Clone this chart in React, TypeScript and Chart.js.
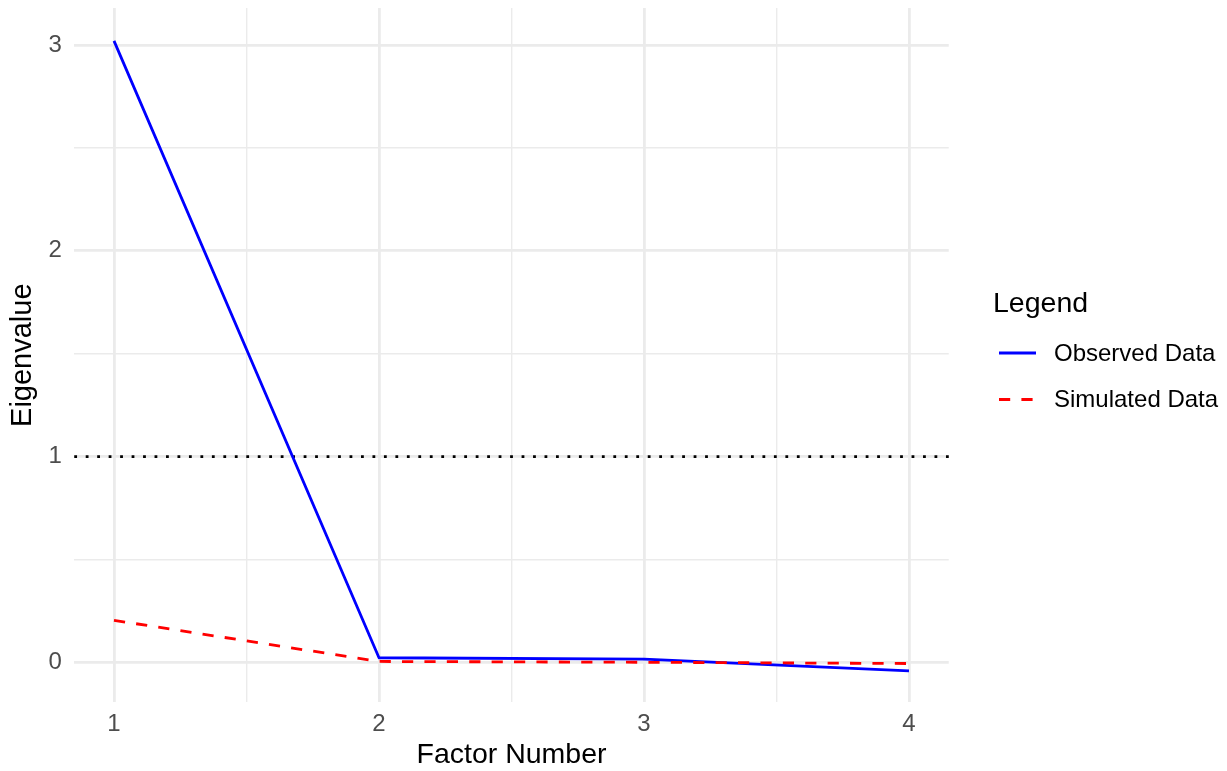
import React, { useEffect, useRef } from 'react';
import { Chart, registerables } from 'chart.js';

Chart.register(...registerables);

// ---- data ----
const factorNumbers = [1, 2, 3, 4];
const observedEigen = [3.02, 0.022, 0.015, -0.042];
const simulatedEigen = [0.204, 0.004, 0.0, -0.006];
const xTickValues = [1, 1.5, 2, 2.5, 3, 3.5, 4];
const yTickValues = [0, 0.5, 1, 1.5, 2, 2.5, 3];
const referenceEigen = 1;
const seriesLabels = ['Observed Data', 'Simulated Data'];
const legendTitle = 'Legend';
const xTitle = 'Factor Number';
const yTitle = 'Eigenvalue';

const FONT = '"Liberation Sans", Arial, Helvetica, sans-serif';
const W = 1227;
const H = 771;
const isMajor = (v: number) => Math.abs(v - Math.round(v)) < 1e-9;

const refLinePlugin = {
  id: 'refLine',
  beforeDatasetsDraw(chart: any) {
    const { ctx, chartArea, scales } = chart;
    const y = scales.y.getPixelForValue(referenceEigen);
    ctx.save();
    ctx.strokeStyle = '#000000';
    ctx.lineWidth = 2.8;
    ctx.lineCap = 'butt';
    ctx.setLineDash([2.8, 8.67]);
    ctx.beginPath();
    ctx.moveTo(chartArea.left, y);
    ctx.lineTo(chartArea.right, y);
    ctx.stroke();
    ctx.restore();
  },
};

const legendPlugin = {
  id: 'ggLegend',
  afterDraw(chart: any) {
    const { ctx } = chart;
    ctx.save();
    ctx.fillStyle = '#000000';
    ctx.textAlign = 'left';
    ctx.textBaseline = 'alphabetic';
    ctx.font = `28.5px ${FONT}`;
    ctx.fillText(legendTitle, 993, 311.7);
    const rows = [353, 399.5];
    chart.data.datasets.forEach((ds: any, i: number) => {
      const y = rows[i];
      ctx.save();
      ctx.strokeStyle = ds.borderColor;
      ctx.lineWidth = ds.borderWidth;
      ctx.lineCap = 'butt';
      ctx.setLineDash(ds.borderDash || []);
      ctx.beginPath();
      ctx.moveTo(999, y);
      ctx.lineTo(1036, y);
      ctx.stroke();
      ctx.restore();
      ctx.font = `24px ${FONT}`;
      ctx.textBaseline = 'middle';
      ctx.fillStyle = '#000000';
      ctx.fillText(ds.label, 1054, y + 1);
    });
    ctx.restore();
  },
};

export default function App() {
  const canvasRef = useRef<HTMLCanvasElement | null>(null);

  useEffect(() => {
    if (!canvasRef.current) return;
    const chart = new Chart(canvasRef.current, {
      type: 'line',
      data: {
        datasets: [
          {
            label: seriesLabels[0],
            data: factorNumbers.map((x, i) => ({ x, y: observedEigen[i] })),
            borderColor: '#0000FF',
            borderWidth: 2.8,
            pointRadius: 0,
            tension: 0,
            fill: false,
            borderCapStyle: 'butt',
            borderJoinStyle: 'round',
            order: 1,
          },
          {
            label: seriesLabels[1],
            data: factorNumbers.map((x, i) => ({ x, y: simulatedEigen[i] })),
            borderColor: '#FF0000',
            borderWidth: 2.8,
            borderDash: [11.2, 11.2],
            pointRadius: 0,
            tension: 0,
            fill: false,
            borderCapStyle: 'butt',
            borderJoinStyle: 'round',
            order: 0,
          },
        ] as any,
      },
      options: {
        responsive: false,
        animation: false,
        devicePixelRatio: 1,
        layout: { autoPadding: false, padding: { left: 0, right: W - 948.75, top: 8, bottom: 0 } },
        plugins: {
          legend: { display: false },
          tooltip: { enabled: false },
        },
        scales: {
          x: {
            type: 'linear',
            min: 0.85,
            max: 4.15,
            afterBuildTicks: (s: any) => {
              s.ticks = xTickValues.map((v) => ({ value: v }));
            },
            afterFit: (s: any) => {
              s.height = H - 702.4;
              s.paddingLeft = 0;
              s.paddingRight = 0;
            },
            ticks: {
              autoSkip: false,
              maxRotation: 0,
              padding: 8,
              color: '#4D4D4D',
              font: { family: FONT, size: 24 },
              callback: (v: any) => (isMajor(Number(v)) ? String(v) : ''),
            },
            grid: {
              color: '#EBEBEB',
              lineWidth: (c: any) => (c.tick && isMajor(c.tick.value) ? 2.8 : 1.4),
              drawTicks: false,
            },
            border: { display: false },
            title: {
              display: true,
              text: xTitle,
              color: '#000000',
              font: { family: FONT, size: 28.5, lineHeight: 1 },
              padding: { top: 0, bottom: 1.5 },
            },
          },
          y: {
            type: 'linear',
            min: -0.195,
            max: 3.18,
            afterBuildTicks: (s: any) => {
              s.ticks = yTickValues.map((v) => ({ value: v }));
            },
            afterFit: (s: any) => {
              s.width = 74.25;
              s.paddingTop = 0;
              s.paddingBottom = 0;
            },
            ticks: {
              autoSkip: false,
              padding: 12.5,
              color: '#4D4D4D',
              font: { family: FONT, size: 24 },
              callback: (v: any) => (isMajor(Number(v)) ? String(v) : ''),
            },
            grid: {
              color: '#EBEBEB',
              lineWidth: (c: any) => (c.tick && isMajor(c.tick.value) ? 2.8 : 1.4),
              drawTicks: false,
            },
            border: { display: false },
            title: {
              display: true,
              text: yTitle,
              color: '#000000',
              font: { family: FONT, size: 29, lineHeight: 1 },
              padding: { top: 8, bottom: 0 },
            },
          },
        },
      } as any,
      plugins: [refLinePlugin, legendPlugin],
    });
    return () => chart.destroy();
  }, []);

  return (
    <div style={{ position: 'absolute', left: 0, top: 0, width: W, height: H, background: '#ffffff' }}>
      <canvas ref={canvasRef} width={W} height={H} style={{ display: 'block', width: W, height: H }} />
    </div>
  );
}
